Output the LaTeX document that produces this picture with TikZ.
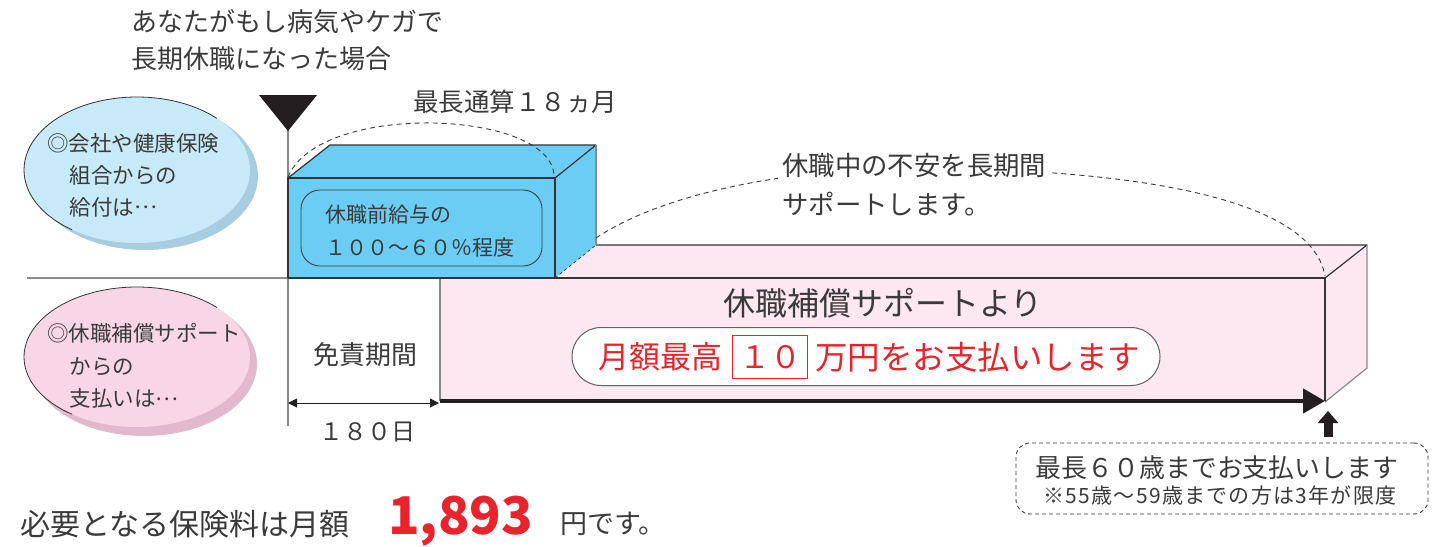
\documentclass[tikz,border=0pt]{standalone}
\usepackage{fontspec}
\setmainfont{Noto Sans CJK JP}
\usetikzlibrary{arrows.meta,shapes.geometric}
\definecolor{tg}{HTML}{3A3A3A}
\definecolor{bluebox}{HTML}{6BCDF4}
\definecolor{blueell}{HTML}{C8E9F8}
\definecolor{blueshd}{HTML}{A9CDE0}
\definecolor{pinkell}{HTML}{F8D6E6}
\definecolor{pinkshd}{HTML}{E2B9CC}
\definecolor{pinkbox}{HTML}{FDE7F0}
\definecolor{redt}{HTML}{E8232B}
\definecolor{edge}{HTML}{333333}
\definecolor{gline}{HTML}{8A8A8A}
\definecolor{blk}{HTML}{231F20}
\newcommand{\fwell}{\raisebox{0.3em}{…}}
\begin{document}
\begin{tikzpicture}[x=1pt,y=-1pt,
  lbl/.style={text=tg, inner sep=0pt, anchor=west},
  fs/.style={font=\fontsize{#1}{#1}\selectfont},
  fsl/.style n args={2}{font=\fontsize{#1}{#2}\selectfont},
  edg/.style={draw=edge, line width=1.2pt, line join=round},
  gedg/.style={draw=gline, line width=1.2pt},
  dsh/.style={draw=tg, dash pattern=on 5pt off 4pt, line width=0.9pt},
]
\useasboundingbox (0,0) rectangle (1439,546);

% ---------- ellipses ----------
\fill[blueshd] (145,176) ellipse [x radius=113, y radius=74];
\node[ellipse, fill=blueell, minimum width=226, minimum height=146, inner sep=0pt] (ellA) at (137,170) {};
\draw[edge, line width=0.8pt] (137,170) ++(45:113 and -73) arc[start angle=45, end angle=235, x radius=113, y radius=-73];

\fill[pinkshd] (144,364) ellipse [x radius=113, y radius=72];
\node[ellipse, fill=pinkell, minimum width=226, minimum height=140, inner sep=0pt] (ellB) at (137,357) {};
\draw[edge, line width=0.8pt] (137,357) ++(45:113 and -70) arc[start angle=45, end angle=235, x radius=113, y radius=-70];

\node[lbl, fsl={21.5}{32}, align=left] (tA) at (47,175) {◎会社や健康保険\\\hspace*{1.05em}組合からの\\\hspace*{1.05em}給付は\fwell};
\node[lbl, fsl={21.5}{32.5}, align=left] (tB) at (47,366) {◎休職補償サポート\\\hspace*{1.05em}からの\\\hspace*{1.05em}支払いは\fwell};

% ---------- base lines ----------
\draw[gedg] (27,278) -- (440,278);
\draw[draw=gline, line width=1.6pt] (288,128) -- (288,426);

% ---------- pink box ----------
\fill[pinkbox] (555,278) -- (596,245) -- (1367,245) -- (1325,278) -- cycle;
\fill[pinkbox] (1325,278) -- (1367,245) -- (1367,368) -- (1325,402) -- cycle;
\fill[pinkbox] (440,278) rectangle (1325,401);
\draw[edg] (596,245) -- (1367,245) -- (1325,278);
\draw[gedg] (1367,245) -- (1367,368) -- (1325,402);
\draw[edg] (440,278) -- (1325,278) -- (1325,401);
\draw[gedg] (440,278) -- (440,401);

% ---------- blue box ----------
\fill[bluebox] (288,178) rectangle (555,278);
\fill[bluebox] (288,178) -- (330,145) -- (596,145) -- (555,178) -- cycle;
\fill[bluebox] (555,178) -- (596,145) -- (596,245) -- (555,278) -- cycle;
\draw[edg] (288,278) -- (288,178) -- (555,178) -- (555,278) -- cycle;
\draw[edg] (288,178) -- (330,145) -- (596,145) -- (555,178);
\draw[gedg] (596,145) -- (596,245);
\draw[draw=edge, dash pattern=on 3pt off 3pt, line width=0.7pt] (555,278) -- (596,245);

\node[draw=edge!90!bluebox, line width=0.9pt, rounded corners=19pt, minimum width=241, minimum height=76, inner sep=0pt] (inner) at (421.5,228) {};
\node[lbl, fsl={21}{33}, align=left] (tInner) at (325,230.5) {休職前給与の\\１００～６０％程度};

% ---------- triangle ----------
\fill[blk] (259,95) -- (317,95) -- (288,131) -- cycle;

% ---------- dashed arcs ----------
\coordinate (a1s) at (288,177);
\coordinate (a1e) at (554,177);
\draw[dsh] (a1s) .. controls (320,100) and (555,110) .. (a1e);
\coordinate (a2s) at (596,238);
\coordinate (a2m) at (905,168);
\coordinate (a2e) at (1325,276);
\draw[dsh] (a2s) .. controls (660,195) and (780,170) .. (a2m) .. controls (1100,168) and (1310,190) .. (a2e);

% ---------- texts ----------
\node[lbl, fsl={26}{37}, align=left] (title) at (131,40) {あなたがもし病気やケガで\\長期休職になった場合};
\node[lbl, fs=25.5] (t18) at (413,102) {最長通算１８ヵ月};
\node[lbl, fsl={26.4}{39}, align=left, fill=white, inner xsep=4pt, inner ysep=2pt] (tLong) at (778,184.5) {休職中の不安を長期間\\サポートします。};
\node[text=tg, fs=32, inner sep=0pt] (tSup) at (883,303) {休職補償サポートより};

\node[draw=gline!70!black, fill=white, line width=1pt, rounded corners=29pt, minimum width=588, minimum height=58, inner sep=0pt] (pill) at (866,356.5) {};
\node[lbl, text=redt, fs=31] (tM1) at (598,357) {月額最高};
\node[draw=redt, fill=white, line width=0.8pt, text=redt, fs=31, minimum width=75, minimum height=43, inner sep=0pt] (ten) at (770,357) {１０};
\node[lbl, text=redt, fs=32.5] (tM2) at (815,357) {万円をお支払いします};

\node[text=tg, fs=26, inner sep=0pt] (tMen) at (365,355) {免責期間};
\node[text=tg, fs=24, inner sep=0pt] (t180) at (367,432) {１８０日};

% ---------- arrows ----------
\coordinate (dl) at (288,403);
\coordinate (dr) at (439,403);
\draw[blk, line width=1pt, {Triangle[length=9pt,width=9pt]}-{Triangle[length=9pt,width=9pt]}] (dl) -- (dr);
\coordinate (thS) at (440,401);
\coordinate (thE) at (1325,401);
\draw[blk, line width=4.5pt, -{Triangle[length=22pt,width=24pt]}] (thS) -- (thE);
\coordinate (upS) at (1328,437);
\coordinate (upE) at (1328,411);
\draw[blk, line width=9pt, -{Triangle[length=12pt,width=20pt]}] (upS) -- (upE);

% ---------- dashed note ----------
\node[draw=tg, dash pattern=on 4pt off 3pt, line width=0.9pt, rounded corners=14pt, minimum width=412, minimum height=71, inner sep=0pt] (note) at (1222,478.5) {};
\node[text=tg, fs=25.9, inner sep=0pt] (n1) at (1217,468) {最長６０歳までお支払いします};
\node[text=tg, font=\fontsize{21}{21}\selectfont\addfontfeature{LetterSpace=6}, inner sep=0pt] (n2) at (1220,495) {※55歳～59歳までの方は3年が限度};

% ---------- bottom ----------
\node[lbl, fs=30] (b1) at (20,524) {必要となる保険料は月額};
\node[lbl, text=redt, font=\fontsize{52}{52}\selectfont\bfseries] (b2) at (388,521) {1,893};
\node[lbl, fs=27] (b3) at (560,524) {円です。};
\end{tikzpicture}
\end{document}
